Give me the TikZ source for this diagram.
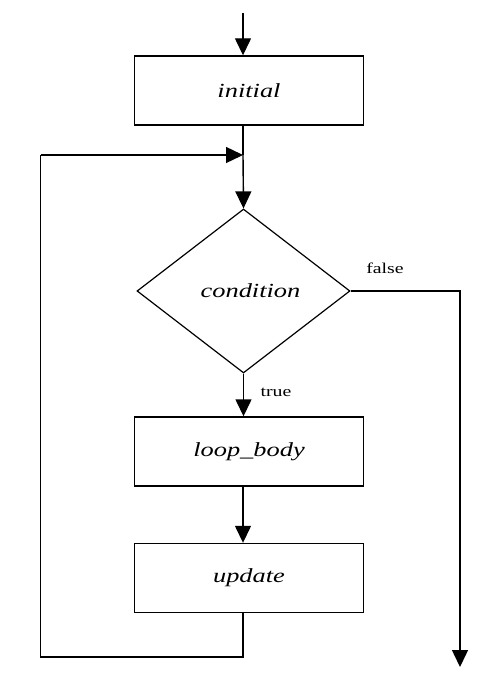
\documentclass[tikz,border=0pt]{standalone}
\usepackage{fontspec}
\setmainfont{Liberation Serif}
\usetikzlibrary{shapes.geometric,arrows.meta}
\newcommand{\wide}[1]{\scalebox{1.32}[1]{#1}}
\begin{document}
\begin{tikzpicture}[x=1pt,y=-1pt,
  flow/.style={line width=1.4pt,-{Triangle[length=17pt,width=16pt]}},
  line/.style={line width=1.4pt},
  procbox/.style={draw,line width=1.4pt,rectangle,minimum width=229pt,minimum height=69pt,inner sep=0pt,font=\fontsize{20}{22}\selectfont\itshape},
  decision/.style={draw,line width=1.2pt,diamond,minimum width=213pt,minimum height=164pt,inner sep=0pt,font=\fontsize{20}{22}\selectfont\itshape},
  lbl/.style={font=\fontsize{15}{17}\selectfont,inner sep=0pt}]
\useasboundingbox[fill=white] (0,0) rectangle (502,677);
\node[procbox] (initial) at (249,90.5) {\wide{initial}};
\node[decision] (cond) at (243.5,291) {\hspace*{14pt}\wide{condition}};
\node[procbox] (body) at (249,451.5) {\wide{loop\_body}};
\node[procbox] (update) at (249,578) {\wide{update}};
\coordinate (start) at (243,13);
\coordinate (merge) at (243,155);
\coordinate (loopL) at (40.5,155);
\coordinate (loopB) at (40.5,657);
\coordinate (falseR) at (460,291);
\coordinate (exit) at (460,667);
\draw[flow] (start) -- (start |- initial.north);
\draw[line] (initial.south -| start) -- (merge);
\draw[flow] (merge) -- (cond.north);
\draw[flow] (cond.south) -- (cond.south |- body.north);
\draw[flow] (body.south -| start) -- (update.north -| start);
\draw[line] (update.south -| start) -- (start |- loopB) -- (loopB) -- (loopL);
\draw[flow] (loopL) -- (merge);
\draw[flow] (cond.east) -- (falseR) -- (exit);
\node[lbl] (ftext) at (385,268) {\wide{false}};
\node[lbl] (ttext) at (276,392) {\wide{true}};
\end{tikzpicture}
\end{document}
